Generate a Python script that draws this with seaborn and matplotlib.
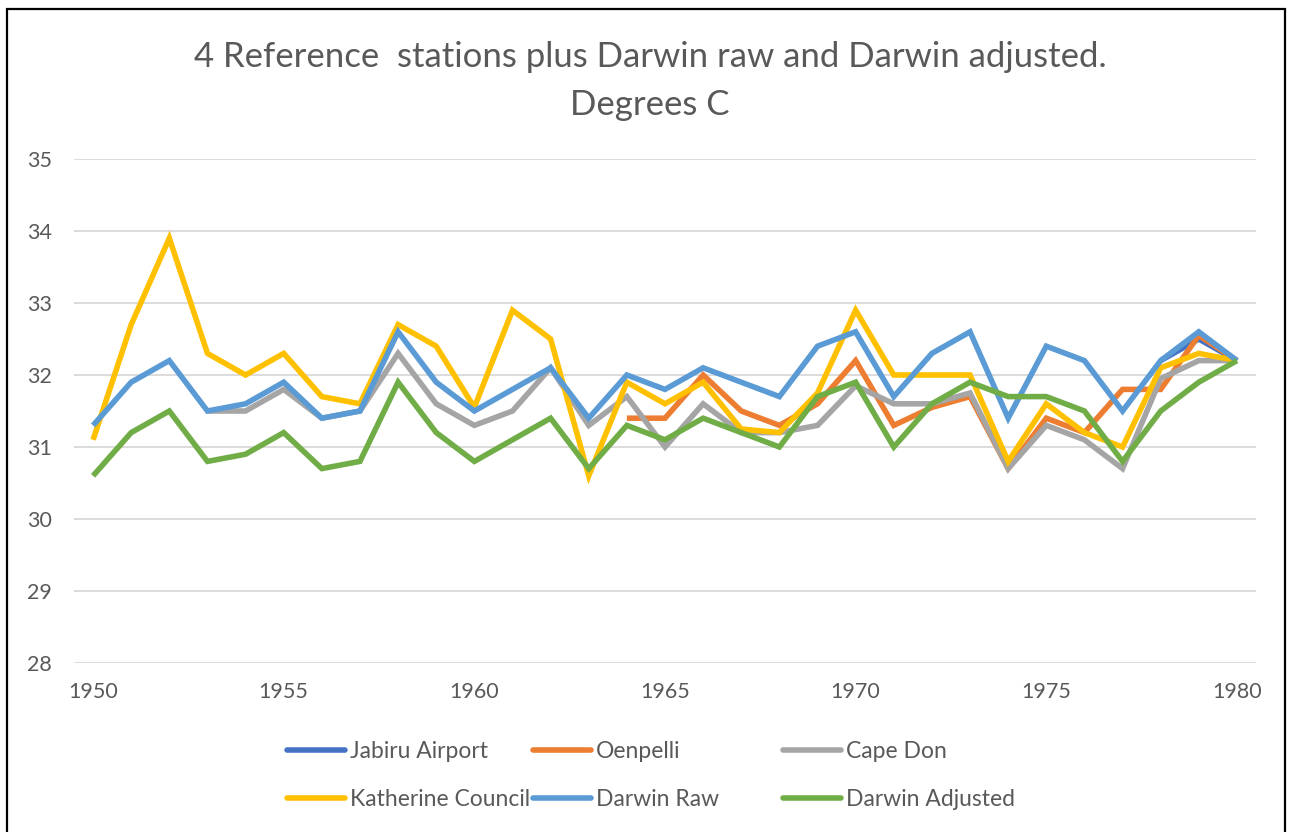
import numpy as np
import pandas as pd
import matplotlib
matplotlib.use("Agg")
import matplotlib.pyplot as plt
import seaborn as sns
from matplotlib.lines import Line2D
from matplotlib.patches import Rectangle

# 年份與各測站資料 (None = 無資料)
years = list(range(1950, 1981))

jabiru = [None] * 28 + [32.2, 32.5, 32.2]
oenpelli = [None] * 14 + [31.4, 31.4, 32.0, 31.5, 31.3, 31.6, 32.2, 31.3, 31.55,
                          31.7, 30.7, 31.4, 31.2, 31.8, 31.8, 32.55, 32.2]
cape_don = [None] * 3 + [31.5, 31.5, 31.8, 31.4, 31.5, 32.3, 31.6, 31.3, 31.5, 32.1,
                         31.3, 31.7, 31.0, 31.6, 31.2, 31.2, 31.3, 31.85, 31.6, 31.6,
                         31.75, 30.7, 31.3, 31.1, 30.7, 31.95, 32.2, 32.2]
katherine = [31.1, 32.7, 33.9, 32.3, 32.0, 32.3, 31.7, 31.6, 32.7, 32.4, 31.55,
             32.9, 32.5, 30.6, 31.9, 31.6, 31.9, 31.25, 31.2, 31.75, 32.9, 32.0,
             32.0, 32.0, 30.8, 31.6, 31.2, 31.0, 32.1, 32.3, 32.2]
darwin_raw = [31.3, 31.9, 32.2, 31.5, 31.6, 31.9, 31.4, 31.5, 32.6, 31.9, 31.5,
              31.8, 32.1, 31.4, 32.0, 31.8, 32.1, 31.9, 31.7, 32.4, 32.6, 31.7,
              32.3, 32.6, 31.4, 32.4, 32.2, 31.5, 32.2, 32.6, 32.2]
darwin_adj = [30.6, 31.2, 31.5, 30.8, 30.9, 31.2, 30.7, 30.8, 31.9, 31.2, 30.8,
              31.1, 31.4, 30.7, 31.3, 31.1, 31.4, 31.2, 31.0, 31.7, 31.9, 31.0,
              31.6, 31.9, 31.7, 31.7, 31.5, 30.8, 31.5, 31.9, 32.2]

stations = ["Jabiru Airport", "Oenpelli", "Cape Don",
            "Katherine Council", "Darwin Raw", "Darwin Adjusted"]
series = [jabiru, oenpelli, cape_don, katherine, darwin_raw, darwin_adj]
colors = ["#4472C4", "#ED7D31", "#A5A5A5", "#FFC000", "#5B9BD5", "#70AD47"]
palette = dict(zip(stations, colors))

# 轉成長表格
df = pd.concat([pd.DataFrame({"year": years, "temp": s, "station": name})
                for name, s in zip(stations, series)])
df["temp"] = pd.to_numeric(df["temp"])
df = df.dropna(subset=["temp"])

sns.set_style("white")
plt.rcParams["font.family"] = ["Lato", "DejaVu Sans"]
grey_txt = "#595959"

fig = plt.figure(figsize=(12.9, 8.32), dpi=100)
ax = fig.add_axes([74 / 1290, 1 - 663 / 832, (1256 - 74) / 1290, (663 - 159) / 832])

sns.lineplot(data=df, x="year", y="temp", hue="station", hue_order=stations,
             palette=palette, linewidth=4.0, legend=False, ax=ax,
             solid_joinstyle="miter", solid_capstyle="butt")

ax.set_xlim(1949.5, 1980.5)
ax.set_ylim(28, 35)
ax.set_xticks(range(1950, 1981, 5))
ax.set_yticks(range(28, 36))
ax.set_xlabel("")
ax.set_ylabel("")
ax.grid(axis="y", color="#D9D9D9", linewidth=1.3)
ax.set_axisbelow(True)
sns.despine(ax=ax, left=True, bottom=True)
ax.tick_params(axis="both", length=0, labelsize=15.5, colors=grey_txt)
ax.tick_params(axis="y", pad=16)
ax.tick_params(axis="x", pad=14)

fig.text(650 / 1290, 1 - 81 / 832,
         "4 Reference  stations plus Darwin raw and Darwin adjusted.\nDegrees C",
         ha="center", va="center", fontsize=25, color=grey_txt, linespacing=1.6)

# 圖例：三欄，各自定位
col_x = [287, 533, 783]
for i, x0 in enumerate(col_x):
    idx = [i, i + 3]
    handles = [Line2D([], [], color=colors[j], linewidth=4.0) for j in idx]
    labels = [stations[j] for j in idx]
    leg = fig.legend(handles, labels, loc="upper left",
                     bbox_to_anchor=(x0 / 1290, 1 - 741 / 832),
                     frameon=False, fontsize=16.5, handlelength=2.55,
                     handletextpad=0.2, labelspacing=1.2, borderpad=0,
                     borderaxespad=0)
    for t in leg.get_texts():
        t.set_color(grey_txt)

# 外框
fig.patches.append(Rectangle((7 / 1290, -0.02), 1278 / 1290, 1.02 - 9 / 832,
                             transform=fig.transFigure, fill=False,
                             edgecolor="black", linewidth=1.6))

fig.savefig("out.png", dpi=100)
